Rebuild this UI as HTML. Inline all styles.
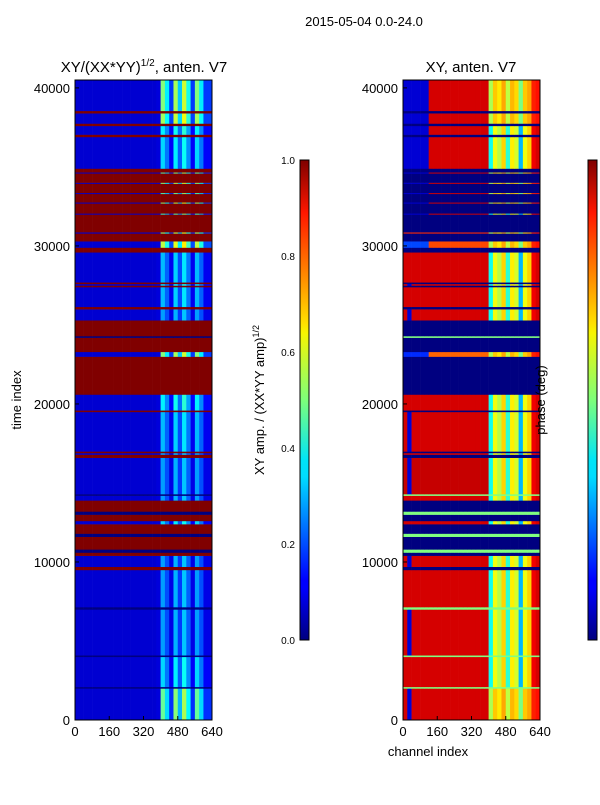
<!DOCTYPE html>
<html><head><meta charset="utf-8"><style>
body{margin:0;background:#fff;}
svg text{font-family:"Liberation Sans",sans-serif;fill:#000;}
</style></head><body>
<svg id="fig" width="600" height="800" xmlns="http://www.w3.org/2000/svg">
<defs>
<linearGradient id="jet" x1="0" y1="1" x2="0" y2="0">
<stop offset="0" stop-color="#00007f"/><stop offset="0.11" stop-color="#0000ff"/><stop offset="0.125" stop-color="#0000ff"/>
<stop offset="0.34" stop-color="#00dcff"/><stop offset="0.375" stop-color="#00e5f7"/><stop offset="0.5" stop-color="#7dff7a"/>
<stop offset="0.64" stop-color="#f7f500"/><stop offset="0.66" stop-color="#ffe000"/><stop offset="0.89" stop-color="#ff1700"/><stop offset="1" stop-color="#7f0000"/>
</linearGradient>
</defs>
<text x="364" y="26" font-size="13" text-anchor="middle">2015-05-04 0.0-24.0</text>
<text x="144" y="72" font-size="15" text-anchor="middle">XY/(XX*YY)<tspan font-size="10" dy="-6">1/2</tspan><tspan dy="6">, anten. V7</tspan></text>
<text x="471" y="72" font-size="15" text-anchor="middle">XY, anten. V7</text>
<text transform="translate(21,400) rotate(-90)" font-size="13" text-anchor="middle">time index</text>
<text x="428" y="756" font-size="13" text-anchor="middle">channel index</text>
<g id="left"></g>
<g id="right"></g>
<g id="axes"></g>
<rect x="300" y="160" width="9" height="480" fill="url(#jet)" stroke="#000" stroke-width="1"/>
<rect x="588" y="160" width="9" height="480" fill="url(#jet)" stroke="#000" stroke-width="1"/>
<text transform="translate(264,400) rotate(-90)" font-size="13" text-anchor="middle">XY amp. / (XX*YY amp)<tspan font-size="9" dy="-5">1/2</tspan></text>
<text transform="translate(545,400) rotate(-90)" font-size="13" text-anchor="middle">phase (deg)</text>
</svg>
<script>
// time bands (61 bands)
const bandStart=[0,2000,2100,4000,4100, 7000,7150,9500,9700,10400, 10600,10800,11600,11800,12400, 12600,13000,13200,13900,14200, 14300,16600,16800,16900,17000, 19500,19600,20600,23000,23300, 24200,24300,25300,26000,26150, 27400,27500,27600,27700,29600, 29900,30300,30800,30870,32000, 32060,32700,32760,33300,33360, 33950,34010,34600,34660,34900, 36900,37050,37600,37750,38400, 38550,40500];
const bandType=["g","z","g","z","g", "z","g","f","g","f", "z","f","z","f","g", "f","z","f","g","z", "g","f","g","f","g", "f","g","f","g","f", "z","f","g","f","g", "f","g","f","g","f", "g","f","g","f","g", "f","g","f","g","f", "g","f","g","f","g", "f","g","f","g","f", "g"];
const bandAmp=[1.7,0,1.2,0,1.0, 0,1.0,1,1.0,1, 0,1,0,1,1.2, 1,0,1,1.0,0, 1.0,1,1.0,1,1.1, 1,1.3,1,1.8,1, 0,1,1.0,1,1.1, 1,1.2,1,1.1,1, 2.0,1,1.8,1,1.5, 1,1.8,1,1.6,1, 1.8,1,1.6,1,1.2, 1,1.3,1,1.9,1, 1.8];
const bandPhaseA=[-150,0,-150,0,-150, 0,-150,0,-150,0, 0,0,0,0,-150, 0,0,0,-150,0, -150,0,-150,0,-150, 0,-150,0,-120,0, 0,0,-150,0,-150, 0,-150,0,-150,0, -110,0,120,0,-150, 0,-150,0,-150,0, -150,0,-150,0,-150, 0,-150,0,-150,0, -150];
const bandPhaseB=[150,0,150,0,150, 0,150,0,150,0, 0,0,0,0,150, 0,0,0,150,0, 155,0,150,0,150, 0,150,0,100,0, 0,0,150,0,150, 0,150,0,150,0, 110,0,120,0,150, 0,150,0,150,0, 150,0,150,0,150, 0,150,0,150,0, 150];
const bandSpeck=[1,0,1,0,1, 0,1,0,1,0, 0,0,0,0,1, 0,0,0,1,0, 1,0,1,0,1, 0,1,0,0,0, 0,0,1,0,1, 0,1,0,1,0, 0,0,0,0,0, 0,0,0,0,0, 0,0,0,0,0, 0,0,0,0,0, 0];
// channel bins of 20 channels
const chanStart=[0,20,40,60,80,100,120,140,160,180,200,220,240,260,280,300,320,340,360,380,400,420,440,460,480,500,520,540,560,580,600,620];
const chanAmp=[0.08,0.08,0.08,0.08,0.08,0.08,0.08,0.08,0.08,0.08,0.08,0.08,0.08,0.08,0.08,0.08,0.08,0.08,0.08,0.09,0.28,0.2,0.1,0.3,0.18,0.32,0.22,0.1,0.28,0.2,0.1,0.1];
const chanPhase=[null,null,null,null,null,null,null,null,null,null,null,null,null,null,null,null,null,null,null,null,-40,40,20,60,-30,50,30,-70,40,60,140,150];
const speck=[0,1,0,0,0,0,0,0];
const yTicks=[0,10000,20000,30000,40000];
const xTicks=[0,160,320,480,640];
const cbAmpTicks=[0.0,0.2,0.4,0.6,0.8,1.0];
const cbPhaseTicks=[-150,-100,-50,0,50,100,150];

const NS="http://www.w3.org/2000/svg";
const T0=0,T1=40500,C1=640,PY0=80,PY1=720;
function yS(t){return PY1-(t-T0)/(T1-T0)*(PY1-PY0);}
function xS(c,x0){return x0+c/C1*137;}
function jet(v){v=Math.max(0,Math.min(1,v));const cl=a=>Math.round(255*Math.max(0,Math.min(1,a)));
return `rgb(${cl(1.5-Math.abs(4*v-3))},${cl(1.5-Math.abs(4*v-2))},${cl(1.5-Math.abs(4*v-1))})`;}
function mk(tag,attrs,parent){const e=document.createElementNS(NS,tag);for(const k in attrs)e.setAttribute(k,attrs[k]);parent.appendChild(e);return e;}
const L=document.getElementById('left'),R=document.getElementById('right'),A=document.getElementById('axes');
for(let b=0;b<bandType.length;b++){
  const y0=yS(bandStart[b+1]),y1=yS(bandStart[b]);
  for(let c=0;c<chanStart.length;c++){
    const ce=c+1<chanStart.length?chanStart[c+1]:C1;
    const xa=xS(chanStart[c],75),xb=xS(ce,75);
    let v,p;
    if(bandType[b]==="f"){v=1;p=-180;}
    else if(bandType[b]==="z"){v=0;p=0;}
    else{
      v=chanStart[c]<400?chanAmp[c]:chanAmp[c]*bandAmp[b];
      if(chanPhase[c]!==null)p=chanPhase[c]*(bandAmp[b]>1.5?0.6:1)+(bandAmp[b]>1.5?40:0);
      else if(chanStart[c]<160){
        if(bandSpeck[b])p=(speck[c]&&(b%4===0))?bandPhaseA[b]:bandPhaseB[b];
        else p=chanStart[c]<120?bandPhaseA[b]:bandPhaseB[b];
      }
      else p=bandPhaseB[b];
    }
    const h=Math.max(1,y1-y0+0.3).toFixed(2);
    const r1=mk('rect',{x:xa.toFixed(2),y:y0.toFixed(2),width:(xb-xa+0.3).toFixed(2),height:h,fill:jet(v)},L);
    
    
    const xa2=xS(chanStart[c],403),xb2=xS(ce,403);
    const r2=mk('rect',{x:xa2.toFixed(2),y:y0.toFixed(2),width:(xb2-xa2+0.3).toFixed(2),height:h,fill:jet((p+180)/360)},R);
    
    
  }
}
[75,403].forEach((x0,i)=>{
  const fr=mk('rect',{x:x0,y:PY0,width:137,height:PY1-PY0,fill:'none',stroke:'#000','stroke-width':1},A);
  
  
  yTicks.forEach(t=>{const y=yS(t);
    mk('line',{x1:x0,x2:x0+4,y1:y,y2:y,stroke:'#000'},A);
    const tx=mk('text',{x:x0-5,y:y+5,'font-size':13,'text-anchor':'end'},A);tx.textContent=t;
    
    });
  xTicks.forEach(c=>{const x=xS(c,x0);
    mk('line',{x1:x,x2:x,y1:PY1,y2:PY1-4,stroke:'#000'},A);
    const tx=mk('text',{x:x,y:PY1+16,'font-size':13,'text-anchor':'middle'},A);tx.textContent=c;
    
    });
});
cbAmpTicks.forEach(v=>{const y=640-v*480;
  mk('line',{x1:300,x2:303,y1:y,y2:y,stroke:'#000'},A);
  const tx=mk('text',{x:295,y:y+4,'font-size':10,'text-anchor':'end'},A);tx.textContent=v.toFixed(1);
  
  });
cbPhaseTicks.forEach(v=>{const y=640-(v+180)/360*480;
  mk('line',{x1:594,x2:597,y1:y,y2:y,stroke:'#000'},A);
  const tx=mk('text',{x:602,y:y+4,'font-size':11,'text-anchor':'start'},A);tx.textContent=v<0?'\u2212'+(-v):v;
  
  });
</script>
</body></html>
